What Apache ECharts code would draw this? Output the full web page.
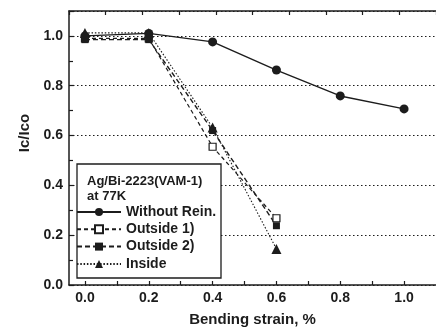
<!DOCTYPE html>
<html>
<head>
<meta charset="utf-8">
<script src="https://cdn.jsdelivr.net/npm/echarts@6/dist/echarts.min.js"></script>
<style>
  html, body { margin: 0; padding: 0; background: #fff; }
  #chart { width: 436px; height: 332px; }
</style>
</head>
<body>
<div id="chart"></div>
<script>
// bending strain (%)
var strain = [0.0, 0.2, 0.4, 0.6, 0.8, 1.0]
// Ic/Ico for each sample
var withoutRein = [1.00, 1.01, 0.976, 0.863, 0.759, 0.707]
var outside1 = [0.99, 0.99, 0.555, 0.268]
var outside2 = [0.985, 0.985, 0.62, 0.238]
var inside = [1.012, 1.012, 0.632, 0.145]

var xLabelValues = [0.0, 0.2, 0.4, 0.6, 0.8, 1.0]
var xTickValues = [0.0, 0.1, 0.2, 0.3, 0.4, 0.5, 0.6, 0.7, 0.8, 0.9, 1.0]
var legendTitle = ['Ag/Bi-2223(VAM-1)', 'at 77K']

var ink = '#1c1c1c'
var font = 'Liberation Sans, Arial, sans-serif'

function pairs(vals) {
  return vals.map(function (v, i) { return [strain[i], v] })
}

var myChart = echarts.init(document.getElementById('chart'))

var option = {
  animation: false,
  backgroundColor: '#fff',
  grid: { left: 69, top: 11, width: 374, bottom: 47 },
  xAxis: [{
    type: 'value',
    min: -0.05,
    max: 1.1,
    position: 'bottom',
    name: 'Bending strain, %',
    nameLocation: 'middle',
    nameGap: 27,
    nameTextStyle: { color: ink, fontSize: 15, fontWeight: 'bold', fontFamily: font },
    axisLine: { onZero: false, lineStyle: { color: ink, width: 1.5 } },
    axisTick: { inside: true, length: 4, lineStyle: { color: ink, width: 1.2 }, customValues: xTickValues },
    axisLabel: {
      customValues: xLabelValues,
      color: ink, fontSize: 14, fontWeight: 'bold', fontFamily: font, margin: 6,
      formatter: function (v) { return v.toFixed(1) }
    },
    splitLine: { show: false }
  }, {
    // top frame with its own tick marks
    type: 'value',
    min: 0,
    max: 10,
    interval: 1,
    position: 'top',
    axisLine: { onZero: false, lineStyle: { color: ink, width: 1.5 } },
    axisTick: { inside: true, length: 4, lineStyle: { color: ink, width: 1.2 } },
    axisLabel: { show: false },
    splitLine: { show: false }
  }],
  yAxis: {
    type: 'value',
    min: 0,
    max: 1.1,
    interval: 0.2,
    name: 'Ic/Ico',
    nameLocation: 'middle',
    nameGap: 36,
    nameRotate: 90,
    nameTextStyle: { color: ink, fontSize: 15, fontWeight: 'bold', fontFamily: font, padding: [0, 0, 0, 30] },
    axisLine: { show: true, onZero: false, lineStyle: { color: ink, width: 1.5 } },
    axisTick: { inside: true, length: 5, lineStyle: { color: ink, width: 1.2 } },
    minorTick: { show: true, splitNumber: 2, length: 4, lineStyle: { color: ink, width: 1.2 } },
    axisLabel: {
      showMaxLabel: false,
      color: ink, fontSize: 14, fontWeight: 'bold', fontFamily: font, margin: 6,
      formatter: function (v) { return v.toFixed(1) }
    },
    splitLine: { show: true, lineStyle: { color: ink, width: 1, type: [1.5, 2.5] } }
  },
  legend: {
    orient: 'vertical',
    left: 76,
    top: 205,
    padding: 0,
    itemWidth: 44,
    itemHeight: 10,
    itemGap: 3.3,
    z: 6,
    textStyle: { color: ink, fontSize: 14, fontWeight: 'bold', fontFamily: font, lineHeight: 14 },
    data: ['Without Rein.', 'Outside 1)', 'Outside 2)', 'Inside']
  },
  graphic: [{
    type: 'rect',
    z: 3,
    shape: { x: 77, y: 164, width: 144, height: 114 },
    style: { fill: '#fff', stroke: ink, lineWidth: 1.3 }
  }, {
    type: 'text',
    z: 5,
    left: 87,
    top: 174,
    style: {
      text: legendTitle.join('\n'),
      fill: ink,
      font: 'bold 13px ' + font,
      lineHeight: 15
    }
  }],
  series: [{
    name: 'Without Rein.',
    type: 'line',
    data: pairs(withoutRein),
    symbol: 'circle',
    symbolSize: 9,
    itemStyle: { color: ink },
    lineStyle: { color: ink, width: 1.4, type: 'solid' },
    clip: false
  }, {
    name: 'Outside 1)',
    type: 'line',
    data: pairs(outside1),
    symbol: 'rect',
    symbolSize: 7,
    itemStyle: { color: '#fff', borderColor: ink, borderWidth: 1.2 },
    lineStyle: { color: ink, width: 1.2, type: [4, 3] },
    clip: false
  }, {
    name: 'Outside 2)',
    type: 'line',
    data: pairs(outside2),
    symbol: 'rect',
    symbolSize: 7,
    itemStyle: { color: ink },
    lineStyle: { color: ink, width: 1.4, type: [5, 3] },
    clip: false
  }, {
    name: 'Inside',
    type: 'line',
    data: pairs(inside),
    symbol: 'triangle',
    symbolSize: 10,
    itemStyle: { color: ink },
    lineStyle: { color: ink, width: 1.1, type: [1.5, 1.8] },
    clip: false
  }]
}

myChart.setOption(option, true)
</script>
</body>
</html>
